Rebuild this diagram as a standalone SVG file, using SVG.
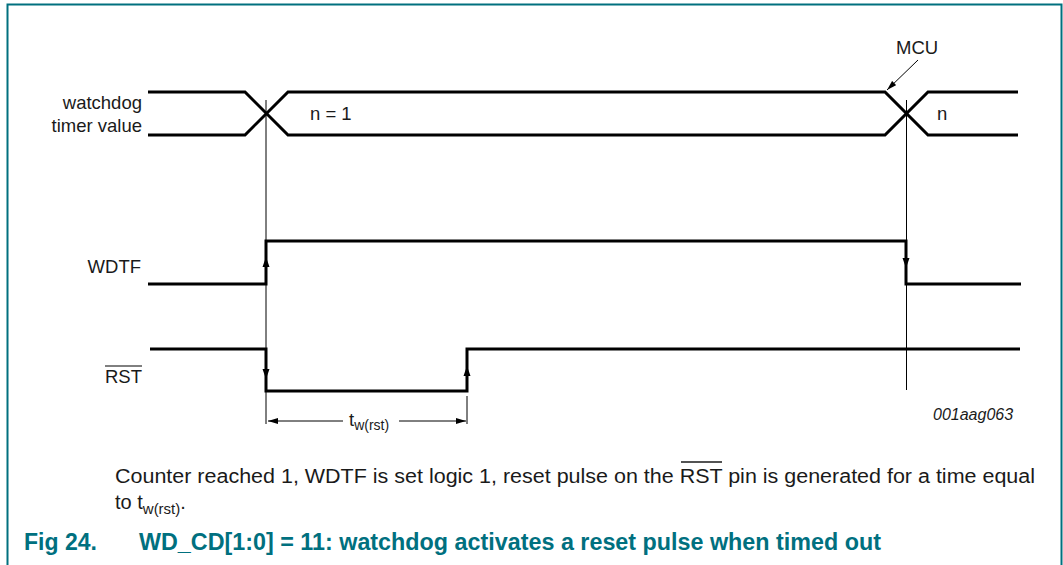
<svg xmlns="http://www.w3.org/2000/svg" width="1063" height="565" viewBox="0 0 1063 565">
<style>
.t{font-family:"Liberation Sans",Arial,sans-serif;font-size:18.5px;fill:#1a1a1a}
.id{font-family:"Liberation Sans",Arial,sans-serif;font-size:16px;font-style:italic;fill:#1a1a1a}
.thick{fill:none;stroke:#000;stroke-width:3;stroke-linejoin:miter;stroke-linecap:butt}
.thin{fill:none;stroke:#000;stroke-width:1}
.ah{fill:#000;stroke:none}
.frame{fill:none;stroke:#00707f;stroke-width:2}
.cap{font-family:"Liberation Sans",Arial,sans-serif;font-size:20px;fill:#1a1a1a}
.title{font-family:"Liberation Sans",Arial,sans-serif;font-size:23px;font-weight:bold;fill:#00707f}
</style>
<defs>
<marker id="arr" markerWidth="10" markerHeight="6" refX="10" refY="3" orient="auto" markerUnits="userSpaceOnUse">
<path d="M0,0 L10,3 L0,6 Z" fill="#000"/>
</marker>
</defs>
<rect width="1063" height="565" fill="#fff"/>
<path class="frame" d="M7.5,565 V4.5 H1061.5 V565"/>

<g id="connectors">
<line class="thin" x1="266" y1="100" x2="266" y2="424"/>
<line class="thin" x1="906.5" y1="100" x2="906.5" y2="390"/>
<line class="thin" x1="467" y1="396" x2="467" y2="424"/>
<line class="thin" x1="343" y1="421" x2="268" y2="421" marker-end="url(#arr)"/>
<line class="thin" x1="399" y1="421" x2="466" y2="421" marker-end="url(#arr)"/>
<line class="thin" x1="918" y1="60" x2="887" y2="90" marker-end="url(#arr)"/>
</g>

<g id="sig-watchdog">
<path class="thick" d="M148,92 H245 L288,135 H885 L928,92 H1018"/>
<path class="thick" d="M148,135 H245 L288,92 H885 L928,135 H1018"/>
<text class="t" x="142" y="109" text-anchor="end">watchdog</text>
<text class="t" x="142" y="132" text-anchor="end">timer value</text>
<text class="t" x="310" y="120">n = 1</text>
<text class="t" x="937" y="120">n</text>
<text class="t" x="896" y="54">MCU</text>
</g>

<g id="sig-wdtf">
<path class="thick" d="M148,284 H266 V241 H906 V284 H1021"/>
<path class="ah" d="M266,257 L269.5,267 L262.5,267 Z"/>
<path class="ah" d="M906,268 L909.5,258 L902.5,258 Z"/>
<text class="t" x="141" y="273" text-anchor="end">WDTF</text>
</g>

<g id="sig-rst">
<path class="thick" d="M150,349 H266 V391 H467 V349 H1020"/>
<path class="ah" d="M266,379 L269.5,369 L262.5,369 Z"/>
<path class="ah" d="M467,366 L470.5,376 L463.5,376 Z"/>
<text class="t" x="142" y="383" text-anchor="end">RST</text>
<line class="thin" x1="105" y1="366" x2="142" y2="366" stroke-width="1.4"/>
</g>

<g id="label-tw">
<text class="t" x="349" y="426">t<tspan style="font-size:14px" dy="4">w(rst)</tspan></text>
</g>

<g id="label-id">
<text class="id" x="933" y="420">001aag063</text>
</g>

<g id="caption">
<text class="cap" x="115" y="483" textLength="920" lengthAdjust="spacingAndGlyphs">Counter reached 1, WDTF is set logic 1, reset pulse on the RST pin is generated for a time equal</text>
<line x1="681" y1="462" x2="722" y2="462" stroke="#1a1a1a" stroke-width="1.5"/>
<text class="cap" x="115" y="509">to t<tspan style="font-size:15px" dy="5">w(rst)</tspan><tspan dy="-5">.</tspan></text>
<text class="title" x="24" y="550">Fig 24.</text>
<text class="title" x="139" y="550" textLength="742" lengthAdjust="spacingAndGlyphs">WD_CD[1:0] = 11: watchdog activates a reset pulse when timed out</text>
</g>
</svg>
